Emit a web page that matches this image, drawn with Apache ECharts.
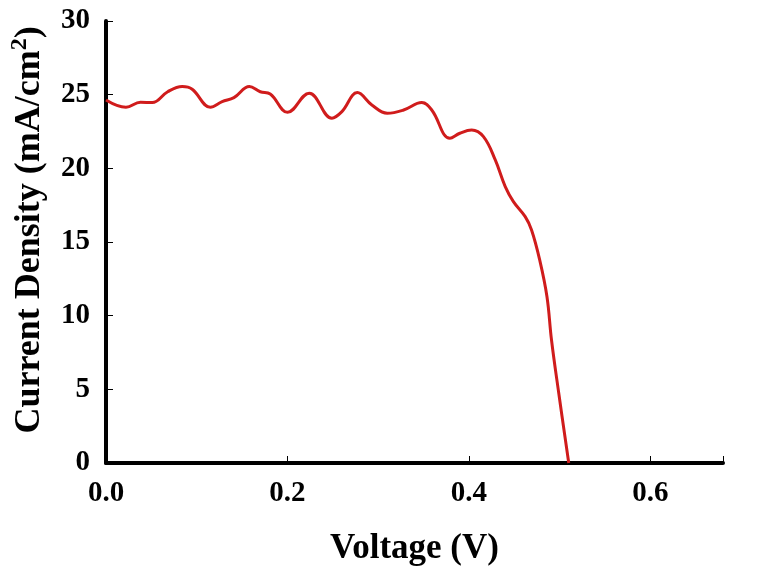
<!DOCTYPE html>
<html>
<head>
<meta charset="utf-8">
<script src="https://cdn.jsdelivr.net/npm/echarts@6/dist/echarts.min.js"></script>
<style>html,body{margin:0;padding:0;background:#fff;}#c{width:757px;height:576px;}</style>
</head>
<body>
<div id="c"></div>
<script>
var voltage = [0.000, 0.022, 0.038, 0.051, 0.068, 0.084, 0.095, 0.115, 0.128, 0.141, 0.158, 0.170, 0.181, 0.200, 0.224, 0.249, 0.260, 0.277, 0.293, 0.310, 0.328, 0.348, 0.359, 0.379, 0.390, 0.403, 0.416, 0.429, 0.440, 0.449, 0.462, 0.469, 0.478, 0.486, 0.491, 0.499, 0.510];
var current = [24.64, 24.15, 24.49, 24.46, 25.20, 25.55, 25.37, 24.15, 24.53, 24.80, 25.55, 25.20, 25.05, 23.80, 25.10, 23.40, 23.85, 25.14, 24.30, 23.74, 23.96, 24.46, 23.96, 22.04, 22.38, 22.60, 22.15, 20.57, 18.76, 17.74, 16.72, 15.82, 13.78, 11.29, 8.35, 4.73, 0.00];
var xTicks = [0.0, 0.2, 0.4, 0.6];
var yTicks = [0, 5, 10, 15, 20, 25, 30];

var font = '"Liberation Serif", "Times New Roman", serif';
var pts = voltage.map(function (v, i) { return [v, current[i]]; });
var chart = echarts.init(document.getElementById('c'), null, {renderer: 'canvas'});
chart.setOption({
  animation: false,
  backgroundColor: '#ffffff',
  grid: {left: 104, right: 34, top: 21, bottom: 113, containLabel: false},
  xAxis: {
    type: 'value', min: 0, max: 0.68, interval: 0.2,
    name: 'Voltage (V)', nameLocation: 'middle', nameGap: 68,
    nameTextStyle: {fontFamily: font, fontWeight: 'bold', fontSize: 35, color: '#000'},
    axisLine: {lineStyle: {color: '#000', width: 4}},
    axisTick: {inside: true, length: 7, lineStyle: {color: '#000', width: 1}},
    splitLine: {show: false},
    axisLabel: {
      margin: 16, fontFamily: font, fontWeight: 'bold', fontSize: 29, color: '#000',
      formatter: function (v) {
        for (var i = 0; i < xTicks.length; i++) { if (Math.abs(v - xTicks[i]) < 1e-6) return xTicks[i].toFixed(1); }
        return '';
      }
    }
  },
  yAxis: {
    type: 'value', min: 0, max: 30, interval: 5,
    name: '{t|Current Density (mA/cm}{s|2}{t|)}', nameLocation: 'middle', nameGap: 58, nameRotate: 90,
    nameTextStyle: {
      fontFamily: font, fontWeight: 'bold', fontSize: 36, color: '#000',
      padding: [0, 0, 0, 24],
      rich: {
        t: {fontFamily: font, fontWeight: 'bold', fontSize: 36, color: '#000', verticalAlign: 'bottom', lineHeight: 40},
        s: {fontFamily: font, fontWeight: 'bold', fontSize: 24, color: '#000', verticalAlign: 'top', lineHeight: 40, padding: [0, 0, 16, 0]}
      }
    },
    axisLine: {lineStyle: {color: '#000', width: 4}},
    axisTick: {inside: true, length: 7, lineStyle: {color: '#000', width: 1}},
    splitLine: {show: false},
    axisLabel: {
      margin: 16, fontFamily: font, fontWeight: 'bold', fontSize: 29, color: '#000',
      formatter: function (v) { return yTicks.indexOf(v) >= 0 ? String(v) : ''; }
    }
  },
  series: [{
    type: 'line', data: pts, smooth: 0.4, showSymbol: false,
    lineStyle: {color: '#d01c1c', width: 3}
  }]
});
</script>
</body>
</html>
